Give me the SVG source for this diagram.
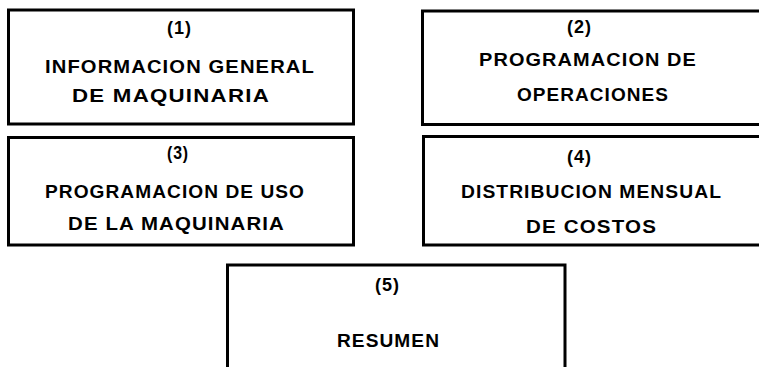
<svg xmlns="http://www.w3.org/2000/svg" width="759" height="367" viewBox="0 0 759 367">
<style>
.box{fill:none;stroke:#000;stroke-width:3}
.t{font-family:"Liberation Sans",Arial,sans-serif;font-weight:bold;font-size:18px;fill:#000;letter-spacing:1px}
</style>
<rect width="759" height="367" fill="#fff"/>
<g id="node1">
<rect class="box" x="8.5" y="10" width="345" height="114"/>
<text class="t" x="167" y="34" textLength="25" lengthAdjust="spacingAndGlyphs">(1)</text>
<text class="t" x="45" y="73" textLength="270" lengthAdjust="spacingAndGlyphs">INFORMACION GENERAL</text>
<text class="t" x="72" y="102" textLength="198" lengthAdjust="spacingAndGlyphs">DE MAQUINARIA</text>
</g>
<g id="node2">
<path class="box" d="M770 11 H422.5 V124.5 H770"/>
<text class="t" x="567" y="33" textLength="25" lengthAdjust="spacingAndGlyphs">(2)</text>
<text class="t" x="479" y="66" textLength="218" lengthAdjust="spacingAndGlyphs">PROGRAMACION DE</text>
<text class="t" x="517" y="101" textLength="152" lengthAdjust="spacingAndGlyphs">OPERACIONES</text>
</g>
<g id="node3">
<rect class="box" x="8.5" y="137.5" width="345" height="107.5"/>
<text class="t" x="167" y="159" textLength="22" lengthAdjust="spacingAndGlyphs">(3)</text>
<text class="t" x="45" y="198" textLength="260" lengthAdjust="spacingAndGlyphs">PROGRAMACION DE USO</text>
<text class="t" x="68" y="230" textLength="217" lengthAdjust="spacingAndGlyphs">DE LA MAQUINARIA</text>
</g>
<g id="node4">
<path class="box" d="M770 136.5 H423.5 V245 H770"/>
<text class="t" x="567" y="163" textLength="25" lengthAdjust="spacingAndGlyphs">(4)</text>
<text class="t" x="461" y="198" textLength="261" lengthAdjust="spacingAndGlyphs">DISTRIBUCION MENSUAL</text>
<text class="t" x="526" y="233" textLength="131" lengthAdjust="spacingAndGlyphs">DE COSTOS</text>
</g>
<g id="node5">
<path class="box" d="M227.5 380 V265 H565 V380"/>
<text class="t" x="375" y="291" textLength="25" lengthAdjust="spacingAndGlyphs">(5)</text>
<text class="t" x="337" y="347" textLength="103" lengthAdjust="spacingAndGlyphs">RESUMEN</text>
</g>
<g id="connectors"/>
</svg>
